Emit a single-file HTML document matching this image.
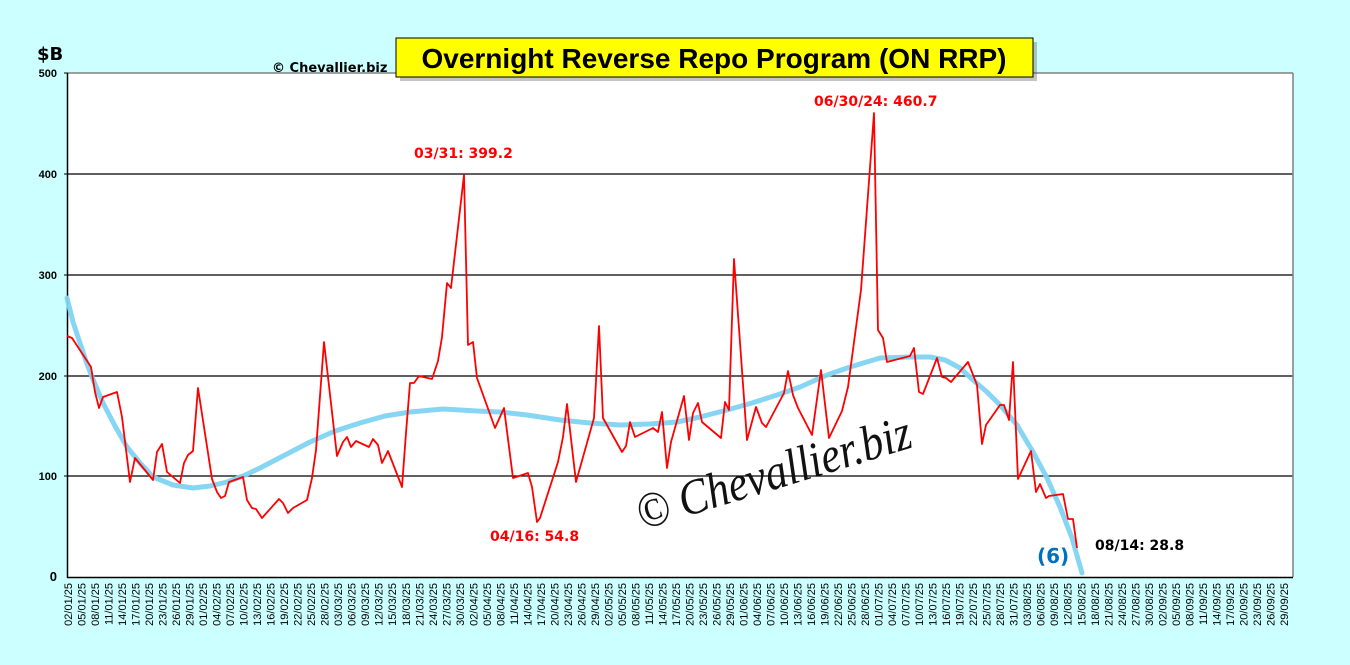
<!DOCTYPE html>
<html><head><meta charset="utf-8"><style>
html,body{margin:0;padding:0;background:#ccffff;}
svg{display:block;font-family:"Liberation Sans",Arial,sans-serif;}
</style></head><body>
<svg width="1350" height="665" viewBox="0 0 1350 665" xmlns="http://www.w3.org/2000/svg">
<rect width="1350" height="665" fill="#ccffff"/>
<rect x="68" y="73" width="1225" height="504" fill="#fff"/>
<g stroke="#000" stroke-width="1.2">
<line x1="68" y1="174" x2="1293" y2="174"/>
<line x1="68" y1="275" x2="1293" y2="275"/>
<line x1="68" y1="376" x2="1293" y2="376"/>
<line x1="68" y1="476" x2="1293" y2="476"/>
</g>
<line x1="68" y1="73" x2="1293" y2="73" stroke="#808080" stroke-width="1.5"/>
<line x1="1293" y1="73" x2="1293" y2="577" stroke="#808080" stroke-width="1.5"/>
<line x1="67.5" y1="73" x2="67.5" y2="578" stroke="#000" stroke-width="1.5"/>
<line x1="67" y1="577.5" x2="1293" y2="577.5" stroke="#000" stroke-width="1.5"/>
<g stroke="#000" stroke-width="1">
<line x1="64" y1="73" x2="68" y2="73"/><line x1="64" y1="174" x2="68" y2="174"/><line x1="64" y1="275" x2="68" y2="275"/><line x1="64" y1="376" x2="68" y2="376"/><line x1="64" y1="476" x2="68" y2="476"/>
</g>
<g font-size="11" font-weight="bold" text-anchor="end" fill="#000">
<text x="57" y="77">500</text><text x="57" y="178">400</text><text x="57" y="279">300</text><text x="57" y="380">200</text><text x="57" y="480">100</text><text x="57" y="581" font-size="13">0</text>
</g>
<text x="37" y="60" font-size="18" font-weight="bold" font-family="DejaVu Sans,sans-serif">$B</text>
<text x="272" y="72" font-size="13" font-weight="bold" font-family="DejaVu Sans,sans-serif">© Chevallier.biz</text>
<rect x="400" y="42" width="637" height="39" fill="#555" opacity="0.35"/>
<rect x="396" y="38" width="637" height="39" fill="#ffff00" stroke="#000" stroke-width="1"/>
<text x="714" y="68" font-size="28" font-weight="bold" text-anchor="middle">Overnight Reverse Repo Program (ON RRP)</text>

<text transform="translate(642,530) rotate(-17)" font-family="Liberation Serif,serif" font-style="italic" font-size="50" fill="#111" textLength="285" lengthAdjust="spacingAndGlyphs">© Chevallier.biz</text>

<polyline fill="none" stroke="#7fd4f2" stroke-width="5" stroke-linecap="round" stroke-linejoin="round" opacity="0.95" points="67,298 73,322 80,343 86,361 92,377 103,403 115,426 127,447 140,463 153,477 173,485 193,488 210,486 227,482 243,476 260,468 285,455 310,442 335,431 360,423 385,416 410,412 443,409 477,411 500,412 527,415 560,420 590,423 620,425 650,424 677,422 700,417 727,410 752,403 777,395 800,387 827,375 850,367 880,358 910,357 930,357 945,360 960,368 973,380 987,392 1000,405 1017,425 1033,452 1047,478 1060,507 1072,538 1082,573"/>

<polyline fill="none" stroke="#ff0000" stroke-width="1.8" stroke-linejoin="round" points="67,336 72,338 91,367 95,392 99,408 103,397 117,392 122,417 130,482 135,458 153,480 157,452 162,444 167,472 180,483 184,463 188,455 193,451 198,388 212,479 217,492 221,498 225,496 229,482 243,477 247,500 252,508 256,509 262,518 279,499 283,503 288,513 293,508 307,500 312,478 316,450 324,342 337,456 343,442 347,437 351,447 356,441 369,447 373,439 378,445 382,463 388,451 402,487 406,433 410,383 414,383 419,376 432,379 438,361 442,337 447,283 451,288 464,175 468,345 473,342 477,378 495,428 504,408 513,478 528,473 532,487 537,522 540,518 558,462 563,437 567,404 576,482 594,418 599,326 603,418 622,452 626,446 630,422 635,437 653,428 658,432 662,412 667,468 671,442 684,396 689,440 693,413 698,403 702,422 721,438 725,402 729,410 734,259 747,440 756,407 762,423 766,427 784,393 788,371 793,395 798,408 812,435 821,370 829,438 842,411 848,387 861,290 874,113 878,330 883,338 887,362 910,356 914,348 919,392 923,394 937,358 942,377 946,378 951,382 968,362 977,385 982,444 986,425 1000,405 1004,405 1009,420 1013,362 1018,479 1031,451 1036,492 1040,484 1046,498 1049,496 1063,494 1068,519 1073,519 1077,548"/>

<g font-family="DejaVu Sans,sans-serif" font-weight="bold" font-size="14">
<text x="414" y="158" fill="#ff0000">03/31: 399.2</text>
<text x="814" y="106" fill="#ff0000">06/30/24: 460.7</text>
<text x="490" y="541" fill="#ff0000">04/16: 54.8</text>
<text x="1095" y="550" fill="#000">08/14: 28.8</text>
<text x="1037" y="563" fill="#0070c0" font-size="20">(6)</text>
</g>

<g font-size="11" fill="#000" text-anchor="end">
<g transform="translate(72,583) rotate(-90)"><text>02/01/25</text></g>
<g transform="translate(85.5,583) rotate(-90)"><text>05/01/25</text></g>
<g transform="translate(99,583) rotate(-90)"><text>08/01/25</text></g>
<g transform="translate(112.5,583) rotate(-90)"><text>11/01/25</text></g>
<g transform="translate(126,583) rotate(-90)"><text>14/01/25</text></g>
<g transform="translate(139.6,583) rotate(-90)"><text>17/01/25</text></g>
<g transform="translate(153.1,583) rotate(-90)"><text>20/01/25</text></g>
<g transform="translate(166.6,583) rotate(-90)"><text>23/01/25</text></g>
<g transform="translate(180.1,583) rotate(-90)"><text>26/01/25</text></g>
<g transform="translate(193.6,583) rotate(-90)"><text>29/01/25</text></g>
<g transform="translate(207.1,583) rotate(-90)"><text>01/02/25</text></g>
<g transform="translate(220.6,583) rotate(-90)"><text>04/02/25</text></g>
<g transform="translate(234.1,583) rotate(-90)"><text>07/02/25</text></g>
<g transform="translate(247.6,583) rotate(-90)"><text>10/02/25</text></g>
<g transform="translate(261.1,583) rotate(-90)"><text>13/02/25</text></g>
<g transform="translate(274.7,583) rotate(-90)"><text>16/02/25</text></g>
<g transform="translate(288.2,583) rotate(-90)"><text>19/02/25</text></g>
<g transform="translate(301.7,583) rotate(-90)"><text>22/02/25</text></g>
<g transform="translate(315.2,583) rotate(-90)"><text>25/02/25</text></g>
<g transform="translate(328.7,583) rotate(-90)"><text>28/02/25</text></g>
<g transform="translate(342.2,583) rotate(-90)"><text>03/03/25</text></g>
<g transform="translate(355.7,583) rotate(-90)"><text>06/03/25</text></g>
<g transform="translate(369.2,583) rotate(-90)"><text>09/03/25</text></g>
<g transform="translate(382.7,583) rotate(-90)"><text>12/03/25</text></g>
<g transform="translate(396.2,583) rotate(-90)"><text>15/03/25</text></g>
<g transform="translate(409.8,583) rotate(-90)"><text>18/03/25</text></g>
<g transform="translate(423.3,583) rotate(-90)"><text>21/03/25</text></g>
<g transform="translate(436.8,583) rotate(-90)"><text>24/03/25</text></g>
<g transform="translate(450.3,583) rotate(-90)"><text>27/03/25</text></g>
<g transform="translate(463.8,583) rotate(-90)"><text>30/03/25</text></g>
<g transform="translate(477.3,583) rotate(-90)"><text>02/04/25</text></g>
<g transform="translate(490.8,583) rotate(-90)"><text>05/04/25</text></g>
<g transform="translate(504.3,583) rotate(-90)"><text>08/04/25</text></g>
<g transform="translate(517.8,583) rotate(-90)"><text>11/04/25</text></g>
<g transform="translate(531.3,583) rotate(-90)"><text>14/04/25</text></g>
<g transform="translate(544.9,583) rotate(-90)"><text>17/04/25</text></g>
<g transform="translate(558.4,583) rotate(-90)"><text>20/04/25</text></g>
<g transform="translate(571.9,583) rotate(-90)"><text>23/04/25</text></g>
<g transform="translate(585.4,583) rotate(-90)"><text>26/04/25</text></g>
<g transform="translate(598.9,583) rotate(-90)"><text>29/04/25</text></g>
<g transform="translate(612.4,583) rotate(-90)"><text>02/05/25</text></g>
<g transform="translate(625.9,583) rotate(-90)"><text>05/05/25</text></g>
<g transform="translate(639.4,583) rotate(-90)"><text>08/05/25</text></g>
<g transform="translate(652.9,583) rotate(-90)"><text>11/05/25</text></g>
<g transform="translate(666.4,583) rotate(-90)"><text>14/05/25</text></g>
<g transform="translate(680,583) rotate(-90)"><text>17/05/25</text></g>
<g transform="translate(693.5,583) rotate(-90)"><text>20/05/25</text></g>
<g transform="translate(707,583) rotate(-90)"><text>23/05/25</text></g>
<g transform="translate(720.5,583) rotate(-90)"><text>26/05/25</text></g>
<g transform="translate(734,583) rotate(-90)"><text>29/05/25</text></g>
<g transform="translate(747.5,583) rotate(-90)"><text>01/06/25</text></g>
<g transform="translate(761,583) rotate(-90)"><text>04/06/25</text></g>
<g transform="translate(774.5,583) rotate(-90)"><text>07/06/25</text></g>
<g transform="translate(788,583) rotate(-90)"><text>10/06/25</text></g>
<g transform="translate(801.5,583) rotate(-90)"><text>13/06/25</text></g>
<g transform="translate(815.1,583) rotate(-90)"><text>16/06/25</text></g>
<g transform="translate(828.6,583) rotate(-90)"><text>19/06/25</text></g>
<g transform="translate(842.1,583) rotate(-90)"><text>22/06/25</text></g>
<g transform="translate(855.6,583) rotate(-90)"><text>25/06/25</text></g>
<g transform="translate(869.1,583) rotate(-90)"><text>28/06/25</text></g>
<g transform="translate(882.6,583) rotate(-90)"><text>01/07/25</text></g>
<g transform="translate(896.1,583) rotate(-90)"><text>04/07/25</text></g>
<g transform="translate(909.6,583) rotate(-90)"><text>07/07/25</text></g>
<g transform="translate(923.1,583) rotate(-90)"><text>10/07/25</text></g>
<g transform="translate(936.6,583) rotate(-90)"><text>13/07/25</text></g>
<g transform="translate(950.2,583) rotate(-90)"><text>16/07/25</text></g>
<g transform="translate(963.7,583) rotate(-90)"><text>19/07/25</text></g>
<g transform="translate(977.2,583) rotate(-90)"><text>22/07/25</text></g>
<g transform="translate(990.7,583) rotate(-90)"><text>25/07/25</text></g>
<g transform="translate(1004.2,583) rotate(-90)"><text>28/07/25</text></g>
<g transform="translate(1017.7,583) rotate(-90)"><text>31/07/25</text></g>
<g transform="translate(1031.2,583) rotate(-90)"><text>03/08/25</text></g>
<g transform="translate(1044.7,583) rotate(-90)"><text>06/08/25</text></g>
<g transform="translate(1058.2,583) rotate(-90)"><text>09/08/25</text></g>
<g transform="translate(1071.7,583) rotate(-90)"><text>12/08/25</text></g>
<g transform="translate(1085.3,583) rotate(-90)"><text>15/08/25</text></g>
<g transform="translate(1098.8,583) rotate(-90)"><text>18/08/25</text></g>
<g transform="translate(1112.3,583) rotate(-90)"><text>21/08/25</text></g>
<g transform="translate(1125.8,583) rotate(-90)"><text>24/08/25</text></g>
<g transform="translate(1139.3,583) rotate(-90)"><text>27/08/25</text></g>
<g transform="translate(1152.8,583) rotate(-90)"><text>30/08/25</text></g>
<g transform="translate(1166.3,583) rotate(-90)"><text>02/09/25</text></g>
<g transform="translate(1179.8,583) rotate(-90)"><text>05/09/25</text></g>
<g transform="translate(1193.3,583) rotate(-90)"><text>08/09/25</text></g>
<g transform="translate(1206.8,583) rotate(-90)"><text>11/09/25</text></g>
<g transform="translate(1220.4,583) rotate(-90)"><text>14/09/25</text></g>
<g transform="translate(1233.9,583) rotate(-90)"><text>17/09/25</text></g>
<g transform="translate(1247.4,583) rotate(-90)"><text>20/09/25</text></g>
<g transform="translate(1260.9,583) rotate(-90)"><text>23/09/25</text></g>
<g transform="translate(1274.4,583) rotate(-90)"><text>26/09/25</text></g>
<g transform="translate(1288,583) rotate(-90)"><text>29/09/25</text></g>
</g>
</svg>
</body></html>
